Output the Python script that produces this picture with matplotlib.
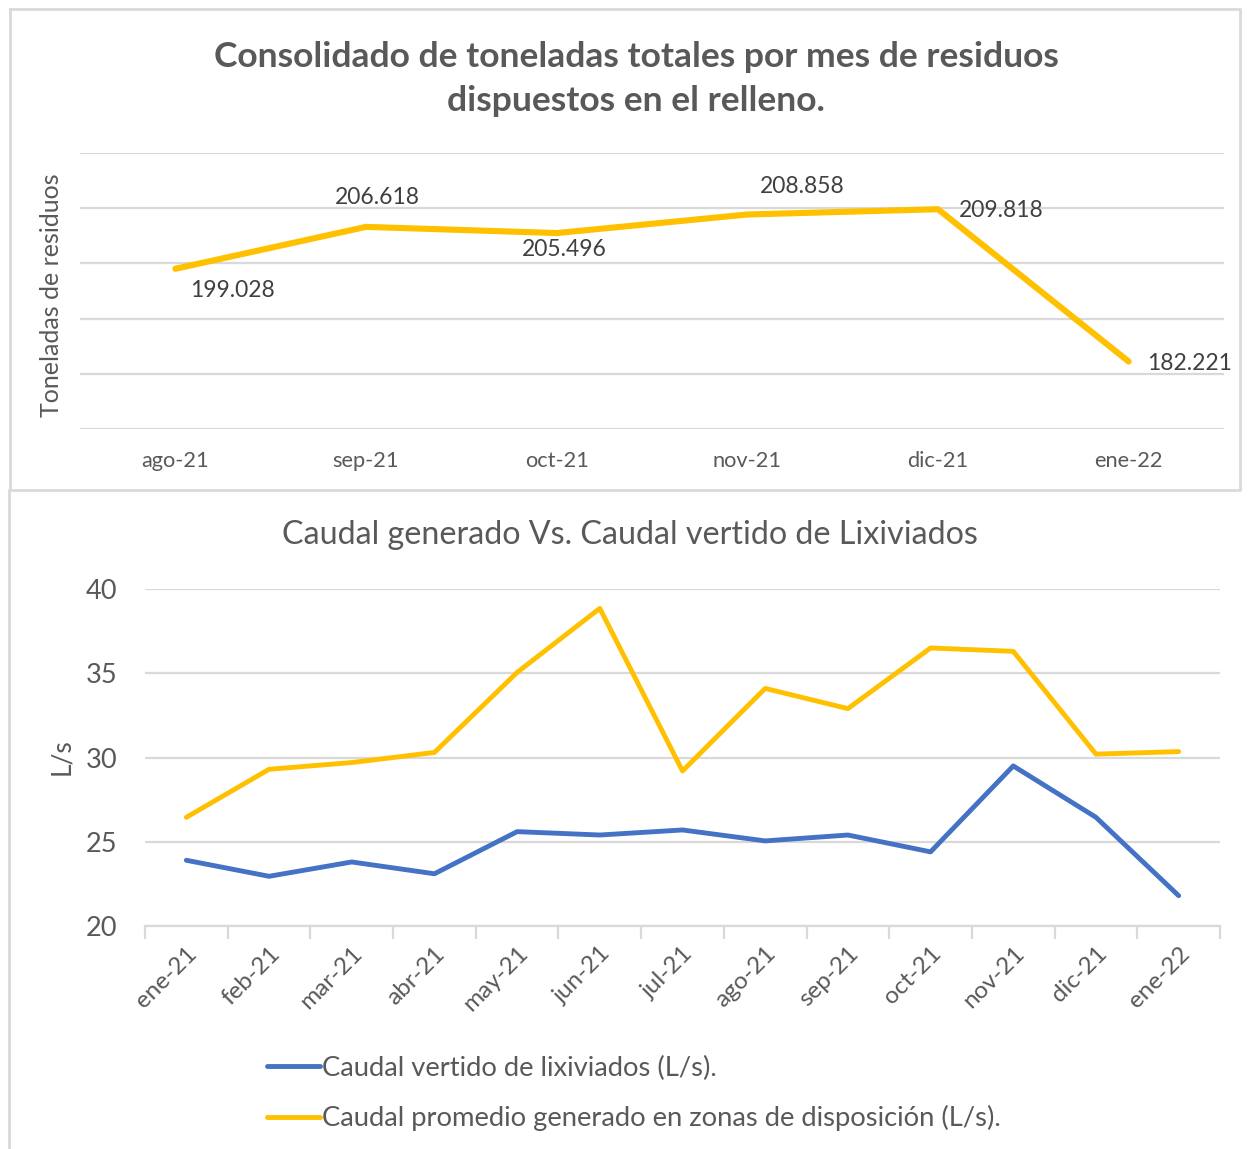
import matplotlib
matplotlib.use("Agg")
import matplotlib.pyplot as plt
from matplotlib.lines import Line2D

plt.rcParams['font.family'] = ['Lato', 'DejaVu Sans']

# ---- data: top chart ----
months_top = ["ago-21", "sep-21", "oct-21", "nov-21", "dic-21", "ene-22"]
tons = [199.028, 206.618, 205.496, 208.858, 209.818, 182.221]
tons_labels = ["199.028", "206.618", "205.496", "208.858", "209.818", "182.221"]

# ---- data: bottom chart ----
months_bot = ["ene-21", "feb-21", "mar-21", "abr-21", "may-21", "jun-21", "jul-21",
              "ago-21", "sep-21", "oct-21", "nov-21", "dic-21", "ene-22"]
vertido = [23.9, 22.95, 23.8, 23.1, 25.6, 25.4, 25.7, 25.05, 25.4, 24.4, 29.5, 26.45, 21.8]
generado = [26.45, 29.3, 29.7, 30.3, 35.05, 38.85, 29.2, 34.1, 32.9, 36.5, 36.3, 30.2, 30.35]
series_names = ["Caudal vertido de lixiviados (L/s).",
                "Caudal promedio generado en zonas de disposición (L/s)."]
title_top = ["Consolidado de toneladas totales por mes de residuos",
             "dispuestos en el relleno."]

W, H = 1249, 1149
fig = plt.figure(figsize=(W / 100, H / 100), dpi=100)

TXT = "#595959"
GRID = "#d9d9d9"
YEL = "#FFC000"
BLU = "#4472C4"

def fx(x):
    return x / W

def fy(y):
    return 1 - y / H

# chart borders
fig.add_artist(Line2D([fx(10), fx(1240), fx(1240), fx(10), fx(10)],
                      [fy(9), fy(9), fy(490), fy(490), fy(9)],
                      color=GRID, lw=2, transform=fig.transFigure))
fig.add_artist(Line2D([fx(9), fx(9)], [fy(490), fy(1149)],
                      color=GRID, lw=2, transform=fig.transFigure))

# ---------- top chart ----------
ax1 = fig.add_axes([fx(80), fy(429), fx(1224) - fx(80), fy(153) - fy(429)])
x1 = list(range(len(months_top)))
ax1.plot(x1, tons, color=YEL, lw=4.4, solid_capstyle='round', zorder=3)
ax1.set_xlim(-0.5, len(months_top) - 0.5)
ax1.set_ylim(170, 220)
ax1.set_yticks([170, 180, 190, 200, 210, 220])
ax1.yaxis.grid(True, color=GRID, lw=1.6)
ax1.set_axisbelow(True)
for s in ax1.spines.values():
    s.set_visible(False)
ax1.tick_params(axis='y', length=0, labelleft=False)
ax1.set_xticks(x1)
ax1.set_xticklabels(months_top, fontsize=15.7, color=TXT)
ax1.tick_params(axis='x', length=0, pad=16)

label_offsets = [(57, -22), (11, 29), (8, -16), (55, 28), (63, -1), (61, -2)]
for xi, yi, lab, off in zip(x1, tons, tons_labels, label_offsets):
    ax1.annotate(lab, (xi, yi), xytext=off, textcoords='offset pixels',
                 ha='center', va='center', fontsize=16.5, color="#404040")

for line, yy in zip(title_top, (57, 101)):
    fig.text(fx(636), fy(yy), line, ha='center', va='center', fontsize=25.5,
             fontweight='bold', color=TXT)
fig.text(fx(52), fy(295), "Toneladas de residuos", rotation=90, ha='center', va='center',
         fontsize=18, color=TXT)

# ---------- bottom chart ----------
ax2 = fig.add_axes([fx(145), fy(926), fx(1220) - fx(145), fy(589) - fy(926)])
x2 = list(range(len(months_bot)))
ax2.plot(x2, vertido, color=BLU, lw=3.5, solid_capstyle='round', solid_joinstyle='round', zorder=3)
ax2.plot(x2, generado, color=YEL, lw=3.5, solid_capstyle='round', solid_joinstyle='round', zorder=3)
ax2.set_xlim(-0.5, len(months_bot) - 0.5)
ax2.set_ylim(20, 40)
ax2.set_yticks([20, 25, 30, 35, 40])
ax2.yaxis.grid(True, color=GRID, lw=1.6)
ax2.set_axisbelow(True)
for k, s in ax2.spines.items():
    s.set_visible(k == 'bottom')
ax2.spines['bottom'].set_color(GRID)
ax2.spines['bottom'].set_linewidth(1.6)
ax2.tick_params(axis='y', length=0, labelsize=19.5, labelcolor=TXT, pad=20)
ax2.set_xticks([i - 0.5 for i in range(len(months_bot) + 1)], minor=False)
ax2.set_xticklabels([""] * (len(months_bot) + 1))
ax2.tick_params(axis='x', which='major', length=9, width=1.6, color=GRID)
ax2.set_xticks(x2, minor=True)
ax2.set_xticklabels(months_bot, minor=True, rotation=45, ha='right',
                    rotation_mode='anchor', fontsize=17.5, color=TXT)
ax2.tick_params(axis='x', which='minor', length=0, pad=12)

fig.text(fx(630), fy(535), "Caudal generado Vs. Caudal vertido de Lixiviados",
         ha='center', va='center', fontsize=23.2, color=TXT)
fig.text(fx(62), fy(757), "L/s", rotation=90, ha='center', va='center',
         fontsize=19, color=TXT)

handles = [Line2D([], [], color=BLU, lw=3.5, solid_capstyle='round'),
           Line2D([], [], color=YEL, lw=3.5, solid_capstyle='round')]
fig.legend(handles, series_names, loc='upper left',
           bbox_to_anchor=(fx(242), fy(1031)), frameon=False,
           fontsize=19.7, labelcolor=TXT, handlelength=1.95, handletextpad=0.08,
           labelspacing=0.9)

fig.savefig("out.png", dpi=100)
